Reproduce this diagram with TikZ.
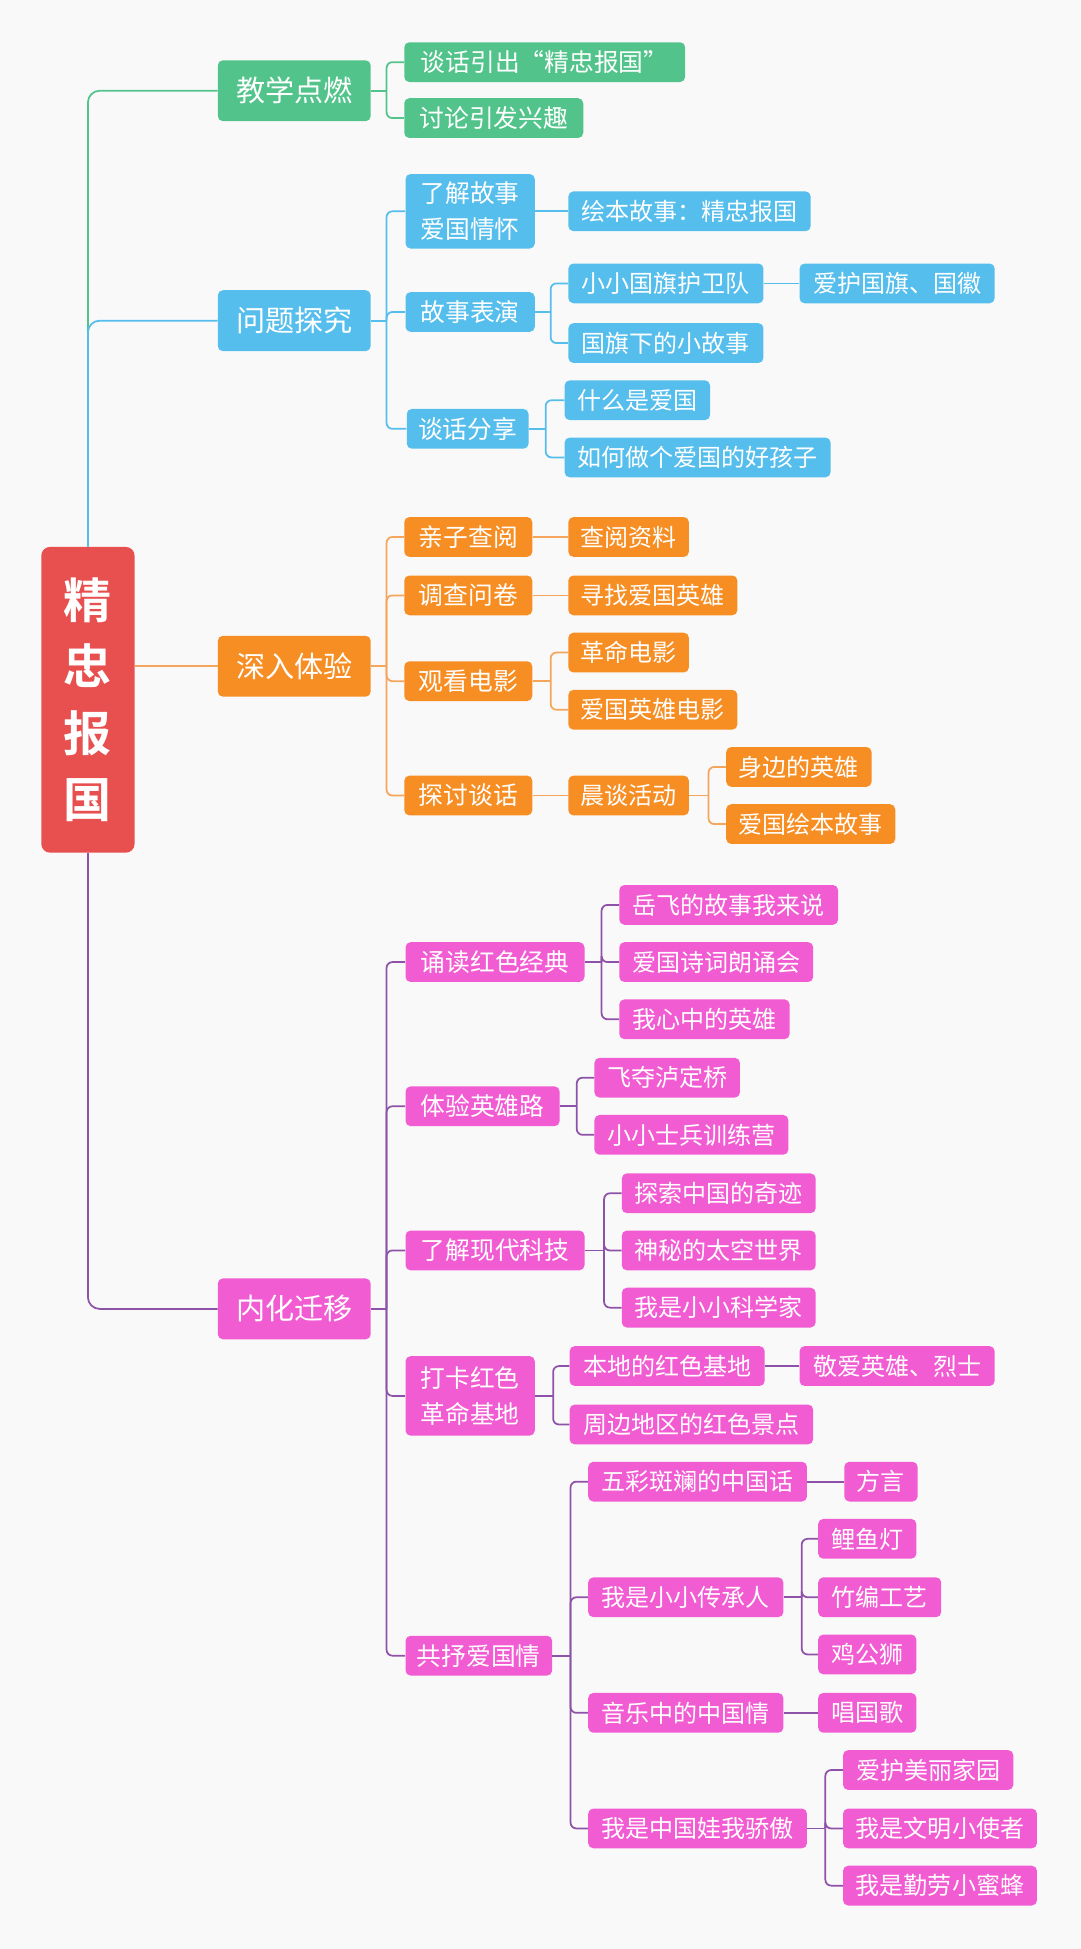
\documentclass[tikz,border=0pt]{standalone}
\usepackage{fontspec}
\setmainfont{Noto Sans CJK SC}[BoldFont={Noto Sans CJK SC Bold}]
\usepackage{tikz}

\definecolor{bgcol}{RGB}{249,249,249}
\definecolor{mred}{RGB}{232,79,79}
\definecolor{mgreen}{RGB}{82,196,139}
\definecolor{mblue}{RGB}{86,190,236}
\definecolor{morange}{RGB}{247,142,36}
\definecolor{mpink}{RGB}{242,92,211}
\definecolor{lorange}{RGB}{246,166,92}
\definecolor{lpurple}{RGB}{142,82,168}

\begin{document}
\begin{tikzpicture}[x=0.03cm,y=-0.03cm,
	box/.style={rounded corners=3.5pt,text=white,inner sep=0pt,anchor=west,minimum height=0.96cm,align=center},
	wd/.style={minimum width=#1*0.03cm},
	lone/.style={box,minimum height=1.47cm,minimum width=3.69cm,font=\fontsize{20}{24}\selectfont},
	ltwo/.style={box,font=\fontsize{17}{25}\selectfont},
	lthree/.style={box,font=\fontsize{16.5}{20}\selectfont},
	link/.style={line width=1.2pt,rounded corners=4pt}]
	\path[use as bounding box,fill=bgcol] (0,0) rectangle (869,1568);

	% centre
	\node[box,fill=mred,minimum width=2.25cm,minimum height=7.38cm,rounded corners=6pt,
		font=\bfseries\fontsize{33}{45.6}\selectfont] (root) at (33,563) {精\\忠\\报\\国};

	% first level
	\node[lone,fill=mgreen] (jiaoxue) at (175,73) {教学点燃};
	\node[lone,fill=mblue] (wenti) at (175,258) {问题探究};
	\node[lone,fill=morange] (shenru) at (175,536) {深入体验};
	\node[lone,fill=mpink] (neihua) at (175,1053) {内化迁移};

	\draw[link,mgreen,rounded corners=8pt] (root.north) |- (jiaoxue.west);
	\draw[link,mblue,rounded corners=8pt] (root.north) |- (wenti.west);
	\draw[link,lorange] (root.east |- shenru.west) -- (shenru.west);
	\draw[link,lpurple,rounded corners=8pt] (root.south) |- (neihua.west);

	% 教学点燃
	\node[ltwo,wd=226,fill=mgreen] (tanhua) at (325,50) {谈话引出“精忠报国”};
	\node[ltwo,wd=144,fill=mgreen] (taolun) at (325,95) {讨论引发兴趣};
	\coordinate (bjx) at (311,73);
	\draw[link,mgreen] (jiaoxue.east) -- (bjx);
	\foreach \c in {tanhua,taolun} \draw[link,mgreen] (bjx) |- (\c.west);

	% 问题探究
	\node[ltwo,wd=104,minimum height=1.8cm,fill=mblue] (liaojie) at (326,170) {了解故事\\爱国情怀};
	\node[ltwo,wd=104,fill=mblue] (biaoyan) at (326,251) {故事表演};
	\node[ltwo,wd=98,fill=mblue] (fenxiang) at (327,345) {谈话分享};
	\coordinate (bwt) at (311,258);
	\draw[link,mblue] (wenti.east) -- (bwt);
	\foreach \c in {liaojie,biaoyan,fenxiang} \draw[link,mblue] (bwt) |- (\c.west);

	\node[lthree,wd=195,fill=mblue] (huiben) at (457,170) {绘本故事：精忠报国};
	\draw[link,mblue] (liaojie.east) -- (huiben.west);

	\node[lthree,wd=157,fill=mblue] (huwei) at (457,228) {小小国旗护卫队};
	\node[lthree,wd=157,fill=mblue] (guoqi) at (457,276) {国旗下的小故事};
	\node[lthree,wd=157,fill=mblue] (aihu) at (643,228) {爱护国旗、国徽};
	\coordinate (bby) at (443,251);
	\draw[link,mblue] (biaoyan.east) -- (bby);
	\foreach \c in {huwei,guoqi} \draw[link,mblue] (bby) |- (\c.west);
	\draw[link,mblue] (huwei.east) -- (aihu.west);

	\node[lthree,wd=117,fill=mblue] (shenme) at (454,322) {什么是爱国};
	\node[lthree,wd=214,fill=mblue] (ruhe) at (454,368) {如何做个爱国的好孩子};
	\coordinate (bfx) at (439,345);
	\draw[link,mblue] (fenxiang.east) -- (bfx);
	\foreach \c in {shenme,ruhe} \draw[link,mblue] (bfx) |- (\c.west);

	% 深入体验
	\node[ltwo,wd=103,fill=morange] (qinzi) at (325,432) {亲子查阅};
	\node[ltwo,wd=103,fill=morange] (diaocha) at (325,479) {调查问卷};
	\node[ltwo,wd=103,fill=morange] (guankan) at (325,548) {观看电影};
	\node[ltwo,wd=103,fill=morange] (tantao) at (325,640) {探讨谈话};
	\coordinate (bsr) at (311,536);
	\draw[link,lorange] (shenru.east) -- (bsr);
	\foreach \c in {qinzi,diaocha,guankan,tantao} \draw[link,lorange] (bsr) |- (\c.west);

	\node[lthree,wd=97,fill=morange] (chayue) at (457,432) {查阅资料};
	\node[lthree,wd=136,fill=morange] (xunzhao) at (457,479) {寻找爱国英雄};
	\draw[link,lorange] (qinzi.east) -- (chayue.west);
	\draw[link,lorange] (diaocha.east) -- (xunzhao.west);

	\node[lthree,wd=97,fill=morange] (geming) at (457,525) {革命电影};
	\node[lthree,wd=136,fill=morange] (yingxiong) at (457,571) {爱国英雄电影};
	\coordinate (bgk) at (443,548);
	\draw[link,lorange] (guankan.east) -- (bgk);
	\foreach \c in {geming,yingxiong} \draw[link,lorange] (bgk) |- (\c.west);

	\node[lthree,wd=97,fill=morange] (chentan) at (457,640) {晨谈活动};
	\draw[link,lorange] (tantao.east) -- (chentan.west);
	\node[lthree,wd=117,fill=morange] (shenbian) at (584,617) {身边的英雄};
	\node[lthree,wd=136,fill=morange] (huibengs) at (584,663) {爱国绘本故事};
	\coordinate (bct) at (570,640);
	\draw[link,lorange] (chentan.east) -- (bct);
	\foreach \c in {shenbian,huibengs} \draw[link,lorange] (bct) |- (\c.west);

	% 内化迁移
	\node[ltwo,wd=144,fill=mpink] (songdu) at (326,774) {诵读红色经典};
	\node[ltwo,wd=124,fill=mpink] (tiyan) at (326,890) {体验英雄路};
	\node[ltwo,wd=144,fill=mpink] (keji) at (326,1006) {了解现代科技};
	\node[ltwo,wd=104,minimum height=1.92cm,fill=mpink] (daka) at (326,1123) {打卡红色\\革命基地};
	\node[ltwo,wd=118,fill=mpink] (gongshu) at (326,1332) {共抒爱国情};
	\coordinate (bnh) at (311,1053);
	\draw[link,lpurple] (neihua.east) -- (bnh);
	\foreach \c in {songdu,tiyan,keji,daka,gongshu} \draw[link,lpurple] (bnh) |- (\c.west);

	\node[lthree,wd=176,fill=mpink] (yuefei) at (498,728) {岳飞的故事我来说};
	\node[lthree,wd=156,fill=mpink] (shici) at (498,774) {爱国诗词朗诵会};
	\node[lthree,wd=137,fill=mpink] (xinzhong) at (498,820) {我心中的英雄};
	\coordinate (bsd) at (484,774);
	\draw[link,lpurple] (songdu.east) -- (bsd);
	\foreach \c in {yuefei,shici,xinzhong} \draw[link,lpurple] (bsd) |- (\c.west);

	\node[lthree,wd=117,fill=mpink] (feiduo) at (478,867) {飞夺泸定桥};
	\node[lthree,wd=156,fill=mpink] (shibing) at (478,913) {小小士兵训练营};
	\coordinate (bty) at (464,890);
	\draw[link,lpurple] (tiyan.east) -- (bty);
	\foreach \c in {feiduo,shibing} \draw[link,lpurple] (bty) |- (\c.west);

	\node[lthree,wd=156,fill=mpink] (tansuo) at (500,960) {探索中国的奇迹};
	\node[lthree,wd=156,fill=mpink] (taikong) at (500,1006) {神秘的太空世界};
	\node[lthree,wd=156,fill=mpink] (kexue) at (500,1052) {我是小小科学家};
	\coordinate (bkj) at (486,1006);
	\draw[link,lpurple] (keji.east) -- (bkj);
	\foreach \c in {tansuo,taikong,kexue} \draw[link,lpurple] (bkj) |- (\c.west);

	\node[lthree,wd=157,fill=mpink] (bendi) at (458,1099) {本地的红色基地};
	\node[lthree,wd=196,fill=mpink] (zhoubian) at (458,1146) {周边地区的红色景点};
	\node[lthree,wd=157,fill=mpink] (jingai) at (643,1099) {敬爱英雄、烈士};
	\coordinate (bdk) at (445,1123);
	\draw[link,lpurple] (daka.east) -- (bdk);
	\foreach \c in {bendi,zhoubian} \draw[link,lpurple] (bdk) |- (\c.west);
	\draw[link,lpurple] (bendi.east) -- (jingai.west);

	\node[lthree,wd=176,fill=mpink] (wucai) at (473,1192) {五彩斑斓的中国话};
	\node[lthree,wd=157,fill=mpink] (chuancheng) at (473,1285) {我是小小传承人};
	\node[lthree,wd=157,fill=mpink] (yinyue) at (473,1378) {音乐中的中国情};
	\node[lthree,wd=176,fill=mpink] (jiaoao) at (473,1471) {我是中国娃我骄傲};
	\coordinate (bgs) at (459,1332);
	\draw[link,lpurple] (gongshu.east) -- (bgs);
	\foreach \c in {wucai,chuancheng,yinyue,jiaoao} \draw[link,lpurple] (bgs) |- (\c.west);

	\node[lthree,wd=59,fill=mpink] (fangyan) at (679,1192) {方言};
	\draw[link,lpurple] (wucai.east) -- (fangyan.west);

	\node[lthree,wd=79,fill=mpink] (liyu) at (658,1238) {鲤鱼灯};
	\node[lthree,wd=99,fill=mpink] (zhubian) at (658,1285) {竹编工艺};
	\node[lthree,wd=79,fill=mpink] (jigong) at (658,1331) {鸡公狮};
	\coordinate (bcc) at (645,1285);
	\draw[link,lpurple] (chuancheng.east) -- (bcc);
	\foreach \c in {liyu,zhubian,jigong} \draw[link,lpurple] (bcc) |- (\c.west);

	\node[lthree,wd=79,fill=mpink] (guoge) at (658,1378) {唱国歌};
	\draw[link,lpurple] (yinyue.east) -- (guoge.west);

	\node[lthree,wd=137,fill=mpink] (meili) at (678,1424) {爱护美丽家园};
	\node[lthree,wd=156,fill=mpink] (wenming) at (678,1471) {我是文明小使者};
	\node[lthree,wd=156,fill=mpink] (qinlao) at (678,1517) {我是勤劳小蜜蜂};
	\coordinate (bja) at (664,1471);
	\draw[link,lpurple] (jiaoao.east) -- (bja);
	\foreach \c in {meili,wenming,qinlao} \draw[link,lpurple] (bja) |- (\c.west);

\end{tikzpicture}
\end{document}
